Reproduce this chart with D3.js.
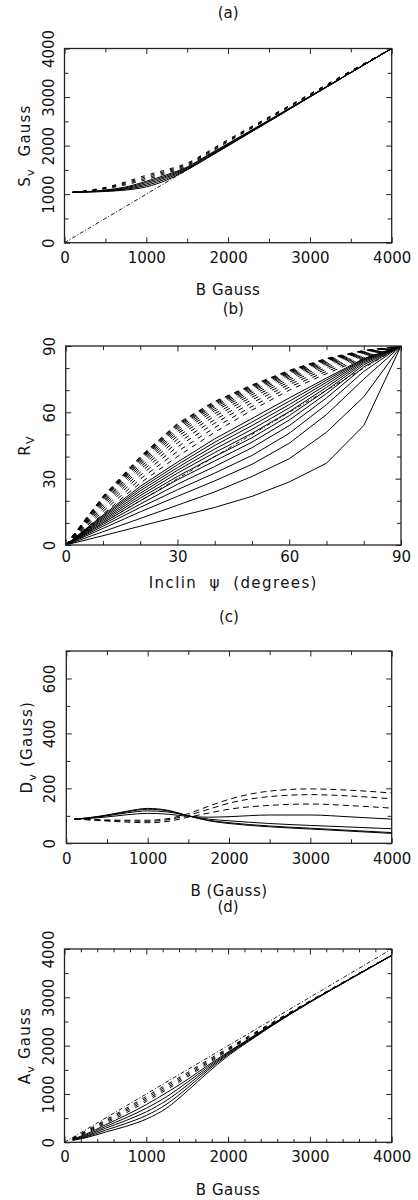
<!DOCTYPE html>
<html><head><meta charset="utf-8">
<script src="https://cdn.jsdelivr.net/npm/d3@7"></script>
<style>
body{margin:0;background:#fff;}
svg{display:block;font-family:"DejaVu Sans",sans-serif;}
text{fill:#111;}
</style></head><body>
<svg id="c" width="418" height="1200"></svg>
<script>
// ---------------- Panel (a): S_v vs B ----------------
const aField = [100,250,500,750,1000,1250,1500,1750,2000,2250,2500,3000,3500,4000];
const aSolid = [
  [1040,1042,1055,1085,1150,1290,1500,1745,1995,2245,2495,3000,3500,4000],
  [1040,1044,1062,1100,1180,1320,1515,1760,2008,2255,2502,3004,3502,4000],
  [1040,1046,1070,1115,1210,1350,1530,1775,2020,2265,2510,3008,3504,4000],
  [1040,1048,1078,1130,1240,1375,1545,1790,2032,2275,2518,3012,3506,4000],
  [1040,1050,1086,1148,1265,1400,1560,1805,2045,2285,2526,3016,3508,4000]
];
const aDashed = [
  [1040,1058,1110,1195,1300,1430,1580,1830,2080,2320,2555,3040,3525,4000],
  [1040,1061,1120,1215,1330,1455,1600,1845,2095,2333,2567,3048,3530,4000],
  [1040,1064,1130,1235,1360,1480,1620,1860,2110,2346,2579,3056,3535,4000],
  [1040,1067,1140,1255,1390,1505,1640,1875,2125,2360,2591,3064,3540,4000]
];
const aRefX = [0,4000];
const aRefY = [0,4000];

// ---------------- Panel (b): R_v vs inclination ----------------
const bPsi = [0,10,20,30,40,50,60,70,80,90];
const bSolid = [
  [0,4.2,8.5,12.8,17,22,28.5,37,54,90],
  [0,6,12,18,24,31,39,51,67,90],
  [0,7.5,15,22,29,36.5,46,59,75,90],
  [0,8.5,17,25,32.5,40.5,50.5,63.5,78.5,90],
  [0,9.3,18.5,27.5,35.5,44,54,66.5,80.5,90],
  [0,10,20,29.5,38,46.5,56.5,68.5,81.5,90],
  [0,10.7,21.2,31,40,48.5,58.5,70,82.3,90],
  [0,11.3,22.3,32.5,41.8,50.5,60.3,71.3,82.9,90],
  [0,11.9,23.4,33.8,43.4,52.3,62,72.5,83.4,90],
  [0,12.5,24.5,35,45,54,63.5,73.6,83.8,90],
  [0,13,25.5,36.3,46.5,55.6,65,74.6,84.1,90],
  [0,13.5,26.5,37.5,48,57.2,66.5,75.5,84.3,90]
];
const bDashed = [
  [0,14,28,40,51,61,70,77.5,84.5,90],
  [0,15.2,29.8,42.3,53.1,62.7,71.4,78.5,85,90],
  [0,16.3,31.5,44.4,55.1,64.3,72.6,79.5,85.5,90],
  [0,17.3,32.9,46.2,56.7,65.7,73.7,80.3,85.9,90],
  [0,18.2,34.2,47.8,58.3,66.9,74.7,81.1,86.3,90],
  [0,18.9,35.3,49.2,59.5,68,75.5,81.7,86.6,90],
  [0,19.5,36.3,50.4,60.7,68.9,76.2,82.3,86.9,90],
  [0,20.1,37.1,51.4,61.6,69.7,76.8,82.7,87.2,90],
  [0,20.6,37.8,52.3,62.5,70.3,77.4,83.2,87.4,90],
  [0,21,38.4,53.1,63.2,70.9,77.8,83.5,87.5,90],
  [0,21.3,38.9,53.7,63.7,71.4,78.2,83.8,87.7,90],
  [0,21.6,39.3,54.2,64.2,71.8,78.5,84,87.8,90],
  [0,21.8,39.7,54.6,64.7,72.1,78.8,84.2,87.9,90],
  [0,22,40,55,65,72.4,79,84.4,88,90]
];
const bRefX = [0,90];
const bRefY = [0,90];

// ---------------- Panel (c): D_v vs B ----------------
const cField = [100,250,500,750,1000,1250,1500,1750,2000,2500,3000,3500,4000];
const cSolid = [
  [88,92,103,117,127,120,100,82,72,60,52,44,36],
  [88,92,102,115,124,118,100,84,75,63,55,47,39],
  [88,91,100,111,118,114,100,88,82,72,65,59,53],
  [88,90,96,104,109,106,98,95,97,103,103,96,88]
];
const cDashed = [
  [88,87,85,84,84,90,108,135,160,190,198,193,183],
  [88,86,83,81,80,86,102,124,146,170,177,172,162],
  [88,86,81,77,75,80,95,110,124,138,143,137,128]
];

// ---------------- Panel (d): A_v vs B ----------------
const dField = [100,250,500,750,1000,1250,1500,1750,2000,2250,2500,3000,3500,4000];
const dSolid = [
  [40,90,210,330,480,710,1060,1440,1790,2085,2370,2895,3383,3865],
  [45,105,250,390,555,790,1120,1485,1815,2100,2380,2899,3386,3866],
  [50,120,290,450,630,870,1180,1520,1835,2112,2388,2903,3388,3867],
  [58,140,325,505,705,945,1240,1555,1852,2124,2396,2907,3391,3868],
  [65,160,360,560,780,1030,1295,1590,1870,2135,2404,2911,3393,3869]
];
const dDashed = [
  [72,180,390,605,845,1090,1350,1625,1900,2160,2418,2915,3395,3870],
  [77,195,415,640,880,1125,1380,1650,1918,2172,2426,2918,3397,3871],
  [82,210,440,672,915,1160,1410,1675,1935,2184,2433,2921,3399,3873],
  [87,225,462,700,950,1195,1440,1700,1952,2196,2440,2925,3401,3875]
];
const dRefX = [0,4000];
const dRefY = [0,4000];

// tick values
const bTicksMajor = [0,1000,2000,3000,4000];
const bTicks500 = [500,1500,2500,3500];
const bTicks200 = [200,400,600,800,1200,1400,1600,1800,2200,2400,2600,2800,3200,3400,3600,3800];
const psiMajor = [0,30,60,90];
const psiMinor = [10,20,40,50,70,80];
const dvMajor = [0,200,400,600];
const dvMinor = [100,300,500,700];

// ---------------- drawing ----------------
const svg = d3.select("#c");

function rotText(sel, cx){
  sel.attr("transform", `translate(${cx},0) rotate(-90)`)
     .attr("x",0).attr("y",0).attr("dy","0.36em")
     .attr("text-anchor","middle");
}

function panel(o){
  const g = svg.append("g");
  const x = d3.scaleLinear().domain(o.xDom).range([o.L, o.R]);
  const y = d3.scaleLinear().domain(o.yDom).range([o.B, o.T]);
  const id = "clip" + o.name;
  svg.append("clipPath").attr("id", id).append("rect")
    .attr("x", o.L).attr("y", o.T).attr("width", o.R - o.L).attr("height", o.B - o.T);

  const strip = s => s.call(a => a.select(".domain").remove())
                      .call(a => a.selectAll("line").attr("stroke","#222").attr("stroke-width",1));
  const axes = (vals, len, label) => {
    strip(g.append("g").attr("transform",`translate(0,${o.B})`)
      .call(d3.axisBottom(x).tickValues(vals).tickSize(-len).tickPadding(o.xPad)
        .tickFormat(label ? d3.format("d") : "")));
    strip(g.append("g").attr("transform",`translate(0,${o.T})`)
      .call(d3.axisTop(x).tickValues(vals).tickSize(-len).tickFormat("")));
  };
  const yaxes = (vals, len, label) => {
    const ga = g.append("g").attr("transform",`translate(${o.L},0)`)
      .call(d3.axisLeft(y).tickValues(vals).tickSize(-len)
        .tickFormat(label ? d3.format("d") : ""));
    strip(ga);
    if (label) ga.selectAll("text").call(rotText, -o.yPad);
    strip(g.append("g").attr("transform",`translate(${o.R},0)`)
      .call(d3.axisRight(y).tickValues(vals).tickSize(-len).tickFormat("")));
  };
  axes(o.xMinor, o.xMinorLen, false);
  axes(o.xMajor, 5.5, true);
  yaxes(o.yMinor, o.yMinorLen, false);
  yaxes(o.yMajor, 5.5, true);
  g.selectAll("text").attr("font-size", 15).attr("font-family","DejaVu Sans").attr("fill","#111");

  // curves
  const line = d3.line().x(d => x(d[0])).y(d => y(d[1])).curve(o.curve);
  const cg = g.append("g").attr("clip-path", `url(#${id})`);
  o.solid.forEach(s => cg.append("path").datum(o.xs.map((v,i)=>[v,s[i]]))
     .attr("d", line).attr("fill","none").attr("stroke","#000").attr("stroke-width",1));
  o.dashed.forEach(s => cg.append("path").datum(o.xs.map((v,i)=>[v,s[i]]))
     .attr("d", line).attr("fill","none").attr("stroke","#000").attr("stroke-width",1)
     .attr("stroke-dasharray", o.dash));
  if (o.ref) cg.append("path").datum(o.ref[0].map((v,i)=>[v,o.ref[1][i]]))
     .attr("d", d3.line().x(d=>x(d[0])).y(d=>y(d[1])))
     .attr("fill","none").attr("stroke","#000").attr("stroke-width",0.9)
     .attr("stroke-dasharray","4,2,1,2");

  // frame
  g.append("rect").attr("x",o.L).attr("y",o.T).attr("width",o.R-o.L).attr("height",o.B-o.T)
    .attr("fill","none").attr("stroke","#222").attr("stroke-width",1.3);

  // titles
  const cx = (o.L + o.R)/2;
  g.append("text").attr("x",cx).attr("y",o.titleY).attr("dy","0.36em")
    .attr("text-anchor","middle").attr("font-size",15).text(o.title);
  g.append("text").attr("x",cx).attr("y",o.xLabY).attr("dy","0.36em")
    .attr("text-anchor","middle").attr("font-size",15).attr("letter-spacing",o.xLabLS)
    .style("white-space","pre").text(o.xLab);
  const yl = g.append("text").attr("transform",`translate(${o.yLabX},${(o.T+o.B)/2}) rotate(-90)`)
    .attr("text-anchor","middle").attr("dy","0.36em").attr("font-size",15)
    .attr("letter-spacing",1.2).style("white-space","pre");
  yl.append("tspan").text(o.yLab[0]);
  yl.append("tspan").attr("dy",4).attr("font-size",11).text(o.yLab[1]);
  yl.append("tspan").attr("dy",-4).text(o.yLab[2]);
}

panel({name:"a", L:64.5, R:391.7, T:48.5, B:242.7, xDom:[0,4000], yDom:[0,4000],
  xMajor:bTicksMajor, xMinor:bTicks500, yMajor:bTicksMajor, yMinor:bTicks500,
  xMinorLen:4, yMinorLen:4, xPad:10, yPad:16,
  xs:aField, solid:aSolid, dashed:aDashed, dash:"4,6", ref:[aRefX,aRefY],
  curve:d3.curveMonotoneX, title:"(a)", titleY:13, xLab:"B Gauss", xLabY:290, xLabLS:0.5,
  yLab:["S","v","  Gauss"], yLabX:25});

panel({name:"b", L:65.7, R:401, T:346, B:545, xDom:[0,90], yDom:[0,90],
  xMajor:psiMajor, xMinor:psiMinor, yMajor:psiMajor, yMinor:psiMinor,
  xMinorLen:4, yMinorLen:4, xPad:6.5, yPad:16.5,
  xs:bPsi, solid:bSolid, dashed:bDashed, dash:"5,5", ref:[bRefX,bRefY],
  curve:d3.curveLinear, title:"(b)", titleY:308.5, xLab:"Inclin  ψ  (degrees)", xLabY:583, xLabLS:1.4,
  yLab:["R","V",""], yLabX:25});

panel({name:"c", L:66.3, R:391.7, T:651, B:843.3, xDom:[0,4000], yDom:[0,700],
  xMajor:bTicksMajor, xMinor:bTicks500, yMajor:dvMajor, yMinor:dvMinor,
  xMinorLen:4, yMinorLen:4, xPad:10, yPad:16.3,
  xs:cField, solid:cSolid, dashed:cDashed, dash:"6,4", ref:null,
  curve:d3.curveMonotoneX, title:"(c)", titleY:617, xLab:"B (Gauss)", xLabY:890.5, xLabLS:0.5,
  yLab:["D","v"," (Gauss)"], yLabX:27});

panel({name:"d", L:64.5, R:391.7, T:949, B:1142.3, xDom:[0,4000], yDom:[0,4000],
  xMajor:bTicksMajor, xMinor:bTicks200, yMajor:bTicksMajor, yMinor:bTicks500,
  xMinorLen:3.3, yMinorLen:4, xPad:9.5, yPad:16.3,
  xs:dField, solid:dSolid, dashed:dDashed, dash:"4,6", ref:[dRefX,dRefY],
  curve:d3.curveMonotoneX, title:"(d)", titleY:906.5, xLab:"B Gauss", xLabY:1190, xLabLS:0.5,
  yLab:["A","v"," Gauss"], yLabX:25});
</script>
</body></html>
